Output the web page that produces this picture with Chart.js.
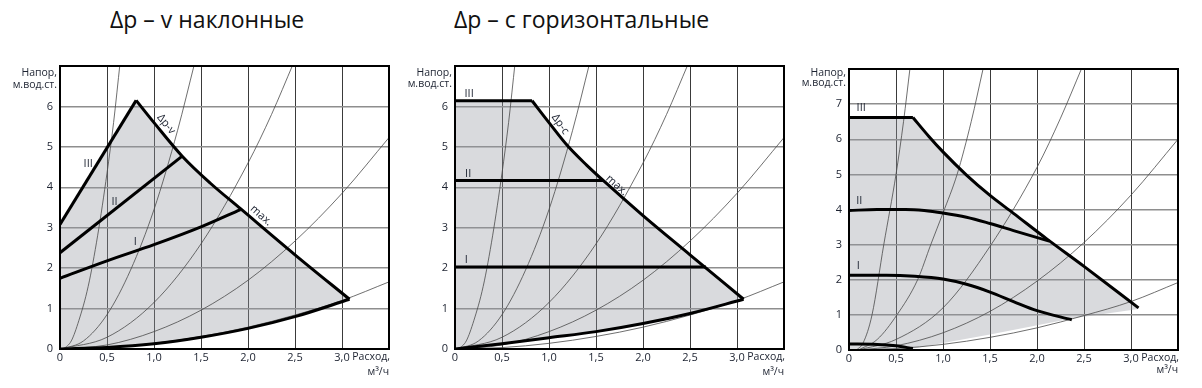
<!DOCTYPE html>
<html>
<head>
<meta charset="utf-8">
<script src="https://cdn.jsdelivr.net/npm/chart.js@4.4.0/dist/chart.umd.min.js"></script>
<style>
  body{margin:0;background:#fff;width:1202px;height:388px;position:relative;overflow:hidden;font-family:"Open Sans",sans-serif}
  .title{position:absolute;top:3px;font-size:23px;color:#111;white-space:nowrap}
  canvas{position:absolute}
</style>
</head>
<body>
<div class="title" style="left:110px">Δp – v наклонные</div>
<div class="title" style="left:454px">Δp – c горизонтальные</div>
<canvas id="c1" width="400" height="340" style="left:0;top:40px"></canvas>
<canvas id="c2" width="400" height="340" style="left:395px;top:40px"></canvas>
<canvas id="c3" width="410" height="340" style="left:788px;top:40px"></canvas>
<script>
// system curves (same on the first two charts), [flow m3/h, head m]
const sys1 = [[0.04,0],[0.12,0.2],[0.2,0.7],[0.3,1.55],[0.4,2.8],[0.5,4.35],[0.57,5.6],[0.64,7.1]];
const sys2 = [[0.02,0],[0.25,0.2],[0.5,0.85],[0.75,1.95],[1.0,3.45],[1.25,5.4],[1.43,7.05]];
const sys3 = [[0,0],[0.5,0.29],[1.0,1.15],[1.5,2.6],[2.0,4.6],[2.25,5.8],[2.48,7.05]];
const sys4 = [[0,0],[0.5,0.1],[1.0,0.43],[1.5,0.96],[2.0,1.7],[2.5,2.67],[3.0,3.85],[3.5,5.23]];
const sys5 = [[0,0],[0.5,0.035],[1.0,0.14],[1.5,0.31],[2.0,0.54],[2.5,0.84],[3.0,1.2],[3.5,1.66]];

// Δp-v
const vLine3 = [[0,3.08],[0.81,6.15]];
const vMax = [[0.81,6.15],[1.0,5.6],[1.3,4.77],[1.6,4.1],[1.92,3.47],[2.5,2.33],[3.08,1.23]];
const vLine2 = [[0,2.38],[1.3,4.77]];
const vLine1 = [[0,1.75],[0.5,2.18],[1.0,2.58],[1.5,3.02],[1.92,3.45]];
const vBottom = [[0,0],[0.5,0.04],[1.0,0.13],[1.5,0.29],[2.0,0.51],[2.5,0.8],[3.08,1.23]];

// Δp-c
const cLine3 = [[0,6.14],[0.82,6.14]];
const cMax = [[0.82,6.14],[1.0,5.6],[1.2,5.02],[1.4,4.55],[1.6,4.12],[2.0,3.3],[2.5,2.33],[3.07,1.23]];
const cLine2 = [[0,4.17],[1.58,4.17]];
const cLine1 = [[0,2.03],[2.67,2.03]];
const cBottom = [[0,0],[0.5,0.13],[1.0,0.28],[1.5,0.43],[2.0,0.63],[2.5,0.88],[3.07,1.23]];

// third chart
const hSys1 = [[0.08,0],[0.15,0.2],[0.245,1],[0.37,3],[0.5,5],[0.58,6.5],[0.65,8.05]];
const hSys2 = [[0.1,0],[0.3,0.3],[0.51,1],[0.73,2],[0.87,3],[1.0,3.9],[1.15,5],[1.3,6.5],[1.43,8.05]];
const hSys3 = [[0.1,0],[0.5,0.3],[1.0,1.2],[1.5,2.95],[2.0,5.2],[2.25,6.6],[2.48,8.05]];
const hSys4 = [[0.1,0],[0.5,0.12],[1.0,0.49],[1.5,1.1],[2.0,1.96],[2.5,3.06],[3.0,4.41],[3.5,6.0]];
const hSys5 = [[0,0],[0.5,0.04],[1.0,0.16],[1.5,0.36],[2.0,0.63],[2.5,0.98],[3.0,1.38],[3.5,1.92]];
const hLine3 = [[0,6.62],[0.68,6.62]];
const hMax = [[0.68,6.62],[0.85,6.08],[1.0,5.64],[1.25,4.98],[1.5,4.4],[1.75,3.89],[2.1,3.17],[2.5,2.38],[3.08,1.2]];
const hLine2 = [[0,3.97],[0.3,4.0],[0.6,4.0],[0.8,3.97],[1.0,3.9],[1.25,3.78],[1.5,3.6],[1.75,3.4],[2.13,3.1]];
const hLine1 = [[0,2.13],[0.4,2.13],[0.7,2.1],[1.0,2.02],[1.25,1.87],[1.5,1.65],[1.75,1.38],[2.0,1.12],[2.37,0.86]];
const hMin = [[0,0.17],[0.3,0.16],[0.5,0.12],[0.68,0.04]];
const hAreaBottom = [[3.08,1.17],[2.37,0.9],[1.5,0.44],[0.68,0.04]];

const xTicks = [0,0.5,1,1.5,2,2.5,3,3.5];
const INK = '#1c2230';

const pts = a => a.map(p => ({x:p[0], y:p[1]}));
const thin = a => ({data:pts(a), showLine:true, borderColor:'#4a4a4a', borderWidth:0.8, pointRadius:0, cubicInterpolationMode:'monotone', order:5});
const bold = (a, smooth) => ({data:pts(a), showLine:true, borderColor:'#000', borderWidth:3, pointRadius:0, cubicInterpolationMode: smooth ? 'monotone' : 'default', tension:0, order:1});
const area = a => ({data:pts(a), showLine:true, borderWidth:0, pointRadius:0, fill:'shape', backgroundColor:'rgba(150,153,160,0.36)', tension:0, order:10});

const textPlugin = {
  id:'texts',
  afterDatasetsDraw(chart, args, o){
    const {ctx, chartArea:a, scales:{x,y}} = chart;
    ctx.save();
    ctx.lineWidth = 2; ctx.strokeStyle = '#000';
    ctx.strokeRect(a.left, a.top, a.right - a.left, a.bottom - a.top);
    ctx.fillStyle = INK;
    ctx.font = '11px "Open Sans"';
    for (const t of o.marks){
      ctx.save();
      ctx.translate(x.getPixelForValue(t[1]), y.getPixelForValue(t[2]));
      ctx.rotate((t[3] || 0) * Math.PI / 180);
      ctx.textAlign = 'center'; ctx.textBaseline = 'middle';
      ctx.fillText(t[0], 0, 0);
      ctx.restore();
    }
    ctx.font = '10.5px "Open Sans"';
    ctx.textAlign = 'right'; ctx.textBaseline = 'middle';
    ctx.fillText('Напор,', a.left - 3, a.top + o.yt[0]);
    ctx.fillText('м.вод.ст.', a.left - 3, a.top + o.yt[1]);
    ctx.fillText('Расход,', a.right + 1, a.bottom + 8);
    ctx.fillText('м³/ч', a.right, a.bottom + o.xt);
    ctx.restore();
  }
};

function makeChart(id, datasets, yMax, pad, marks, yt, xt){
  return new Chart(document.getElementById(id), {
    type:'scatter',
    data:{datasets},
    options:{
      responsive:false, animation:false, events:[],
      layout:{padding:{left:0, top:pad.top, right:pad.right, bottom:0}},
      plugins:{legend:{display:false}, tooltip:{enabled:false}, texts:{marks, yt, xt}},
      scales:{
        x:{type:'linear', min:0, max:3.5,
           afterBuildTicks: s => { s.ticks = xTicks.map(v => ({value:v})); },
           afterFit: s => { s.height = pad.xh; },
           ticks:{padding:2, color:INK, font:{family:'Open Sans', size:11}, maxRotation:0,
                  callback: v => v === 3.5 ? '' : (v === 0 ? '0' : v.toFixed(1).replace('.', ','))},
           grid:{color:'#3a3a3a', lineWidth:1, drawTicks:false},
           border:{color:'#000', width:2}},
        y:{type:'linear', min:0, max:yMax,
           afterFit: s => { s.width = pad.yw; },
           ticks:{stepSize:1, padding:7, color:INK, font:{family:'Open Sans', size:11},
                  callback: v => v === yMax ? '' : String(v)},
           grid:{color:'#8e8e8e', lineWidth:1.5, drawTicks:false},
           border:{color:'#000', width:2}}
      }
    },
    plugins:[textPlugin]
  });
}

makeChart('c1', [
  area([[0,0], ...vLine3, ...vMax.slice(1), ...vBottom.slice().reverse()]),
  thin(sys1), thin(sys2), thin(sys3), thin(sys4), thin(sys5),
  bold(vLine3), bold(vMax, true), bold(vLine2), bold(vLine1, true), bold(vBottom, true)
], 7, {top:26, right:11, xh:31, yw:60},
  [['III',0.3,4.57],['II',0.58,3.63],['I',0.8,2.66],['Δp-v',1.13,5.56,51],['max.',2.14,3.3,42]], [7,19], 23);

makeChart('c2', [
  area([[0,0], ...cLine3, ...cMax.slice(1), ...cBottom.slice().reverse()]),
  thin(sys1), thin(sys2), thin(sys3), thin(sys4), thin(sys5),
  bold(cLine3), bold(cMax, true), bold(cLine2), bold(cLine1), bold(cBottom, true)
], 7, {top:26, right:11, xh:31, yw:60},
  [['III',0.15,6.32],['II',0.14,4.33],['I',0.12,2.2],['Δp-c',1.12,5.56,55],['max.',1.72,4.05,42]], [7,18], 23);

makeChart('c3', [
  area([[0,0], ...hLine3, ...hMax.slice(1), ...hAreaBottom]),
  thin(hSys1), thin(hSys2), thin(hSys3), thin(hSys4), thin(hSys5),
  bold(hLine3), bold(hMax, true), bold(hLine2, true), bold(hLine1, true), bold(hMin, true)
], 8, {top:29, right:20, xh:30, yw:61},
  [['III',0.13,6.88],['II',0.11,4.25],['I',0.1,2.4]], [4,14], 20);
</script>
</body>
</html>
